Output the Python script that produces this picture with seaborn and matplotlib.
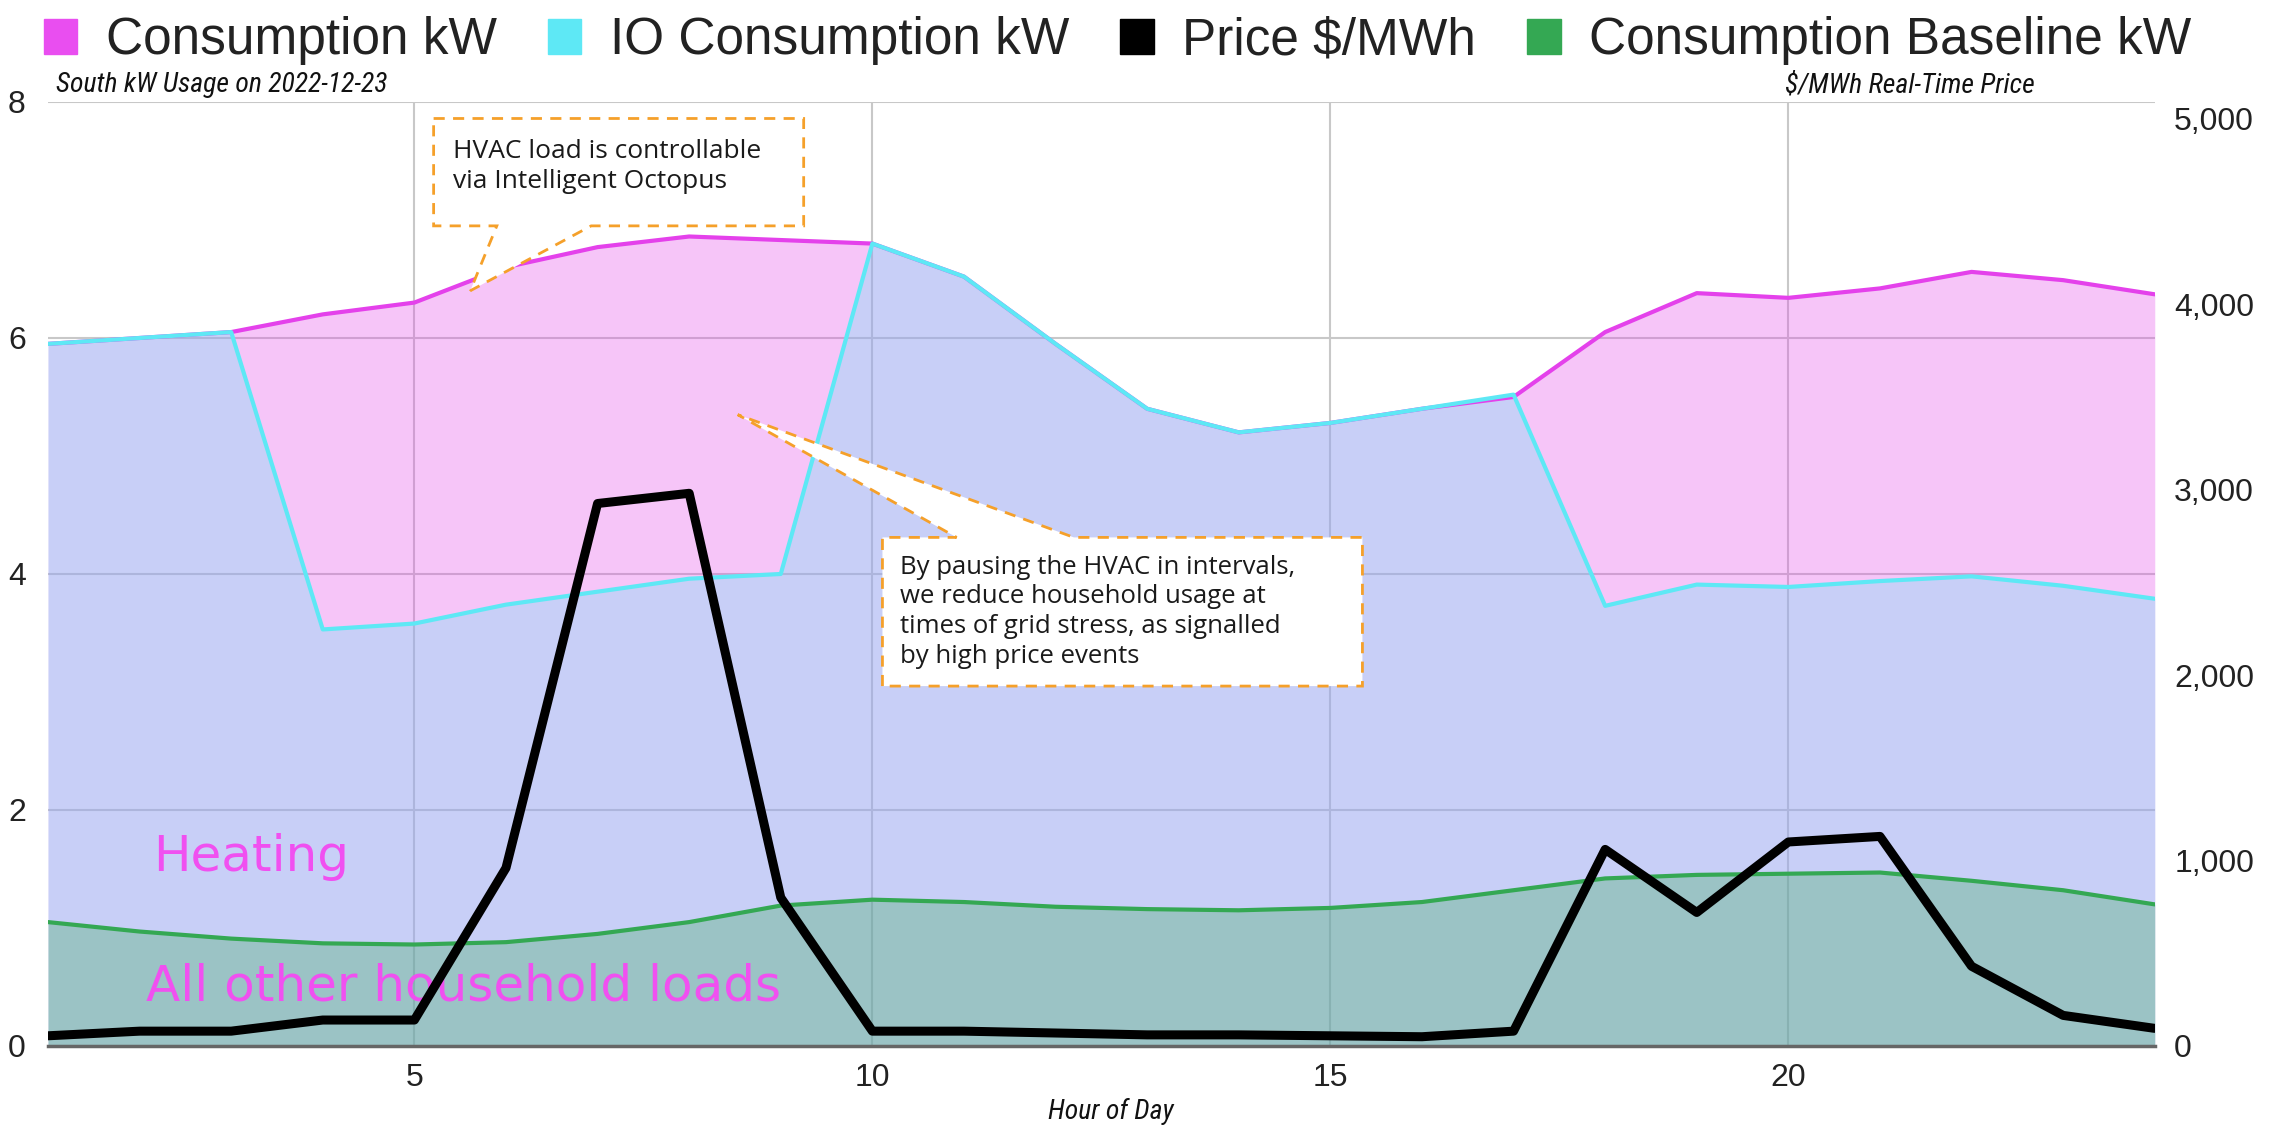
import numpy as np
import pandas as pd
import matplotlib
matplotlib.use("Agg")
import matplotlib.pyplot as plt
import seaborn as sns
from matplotlib.patches import Polygon, Patch
from matplotlib import font_manager as fm
from matplotlib.ticker import FuncFormatter

# ---------------- data ----------------
hours = list(range(1, 25))
consumption = [5.95, 6.00, 6.05, 6.20, 6.30, 6.60, 6.77, 6.86, 6.83, 6.80, 6.52, 5.95,
               5.40, 5.20, 5.28, 5.40, 5.50, 6.05, 6.38, 6.34, 6.42, 6.56, 6.49, 6.37]
io_consumption = [5.95, 6.00, 6.05, 3.53, 3.58, 3.74, 3.85, 3.96, 4.00, 6.80, 6.52, 5.95,
                  5.40, 5.20, 5.28, 5.40, 5.52, 3.73, 3.91, 3.89, 3.94, 3.98, 3.90, 3.79]
baseline = [1.05, 0.97, 0.91, 0.87, 0.86, 0.88, 0.95, 1.05, 1.19, 1.24, 1.22, 1.18,
            1.16, 1.15, 1.17, 1.22, 1.32, 1.42, 1.45, 1.46, 1.47, 1.40, 1.32, 1.20]
price = [55, 80, 80, 140, 140, 960, 2925, 2980, 800, 80, 80, 70,
         60, 60, 55, 50, 80, 1060, 720, 1100, 1130, 430, 165, 95]

series_labels = ["Consumption kW", "IO Consumption kW", "Price $/MWh", "Consumption Baseline kW"]
x_ticks = [5, 10, 15, 20]
y_ticks = [0, 2, 4, 6, 8]
y2_ticks = [0, 1000, 2000, 3000, 4000, 5000]

df = pd.DataFrame({"hour": hours, "cons": consumption, "io": io_consumption,
                   "base": baseline, "price": price})

# ---------------- style ----------------
sns.set_theme(style="white")
plt.rcParams["font.family"] = ["Liberation Sans", "DejaVu Sans"]
avail = {f.name for f in fm.fontManager.ttflist}
narrow = next((n for n in ["Liberation Sans Narrow", "Roboto Condensed", "Open Sans Condensed"]
               if n in avail), "Liberation Sans")
note_font = next((n for n in ["Open Sans", "Noto Sans"] if n in avail), "DejaVu Sans")

c_mag = "#e441eb"
c_cyan = "#5ee8f5"
c_green = "#34a853"
c_black = "#000000"
c_orange = "#f5a02a"
c_label = "#f050f0"

fig = plt.figure(figsize=(22.85, 11.28), dpi=100)
ax = fig.add_axes([0.021, 0.0727, 0.922, 0.8369])
ax.set_xlim(1, 24)
ax.set_ylim(0, 8)

# fills
ax.fill_between(df["hour"], df["cons"], color=c_mag, alpha=0.3, lw=0, zorder=1)
ax.fill_between(df["hour"], df["io"], color=c_cyan, alpha=0.3, lw=0, zorder=1)
ax.fill_between(df["hour"], df["base"], color=c_green, alpha=0.3, lw=0, zorder=1)

# lines
sns.lineplot(data=df, x="hour", y="cons", ax=ax, color=c_mag, lw=3, zorder=3)
sns.lineplot(data=df, x="hour", y="io", ax=ax, color=c_cyan, lw=3, zorder=3)
sns.lineplot(data=df, x="hour", y="base", ax=ax, color=c_green, lw=3, zorder=3)

ax.set_xticks(x_ticks)
ax.set_yticks(y_ticks)
ax.grid(True, color="#c8c8c8", lw=1.5)
ax.set_axisbelow(True)
for s in ["top", "left", "right"]:
    ax.spines[s].set_visible(False)
ax.spines["bottom"].set_color("#666666")
ax.spines["bottom"].set_linewidth(2.5)
ax.tick_params(axis="y", length=0, pad=16, labelsize=23, labelcolor="#222222")
ax.tick_params(axis="x", length=0, pad=12, labelsize=23, labelcolor="#222222")
ax.set_ylabel("")
ax.set_xlabel("")

# secondary axis
ax2 = ax.twinx()
sns.lineplot(data=df, x="hour", y="price", ax=ax2, color=c_black, lw=6.5, zorder=4)
ax2.set_ylim(0, 5090)
ax2.set_yticks(y2_ticks)
ax2.yaxis.set_major_formatter(FuncFormatter(lambda v, p: f"{v:,.0f}"))
ax2.grid(False)
for s in ax2.spines.values():
    s.set_visible(False)
ax2.tick_params(axis="y", length=0, pad=14, labelsize=23, labelcolor="#222222")
ax2.set_ylabel("")
ax2.set_xlabel("")

# axis titles
fig.text(0.486, 0.003, "Hour of Day", ha="center", va="bottom", fontsize=20,
         fontstyle="italic", family=narrow, color="#111111")
ax.text(0.004, 1.004, "South kW Usage on 2022-12-23", transform=ax.transAxes,
        ha="left", va="bottom", fontsize=20, fontstyle="italic", family=narrow, color="#111111")
ax.text(0.943, 1.004, "$/MWh Real-Time Price", transform=ax.transAxes,
        ha="right", va="bottom", fontsize=20, fontstyle="italic", family=narrow, color="#111111")

# in-chart labels
ax.text(2.15, 1.6, "Heating", color=c_label, fontsize=36, family="DejaVu Sans",
        va="center", ha="left", zorder=5)
ax.text(2.07, 0.5, "All other household loads", color=c_label, fontsize=36,
        family="DejaVu Sans", va="center", ha="left", zorder=5)

# callouts
def callout(points, text_xy, text, size):
    poly = Polygon(points, closed=True, facecolor="white", edgecolor=c_orange,
                   lw=2, ls=(0, (4, 3)), transform=ax.transData, zorder=10)
    ax2.add_patch(poly)
    ax2.text(text_xy[0], text_xy[1], text, transform=ax.transData, ha="left", va="center",
             fontsize=size, family=note_font, color="#1a1a1a", linespacing=1.25, zorder=11)

x0, y0, x1, y1 = 5.21, 6.95, 9.25, 7.86
callout([(x0, y1), (x1, y1), (x1, y0), (6.93, y0), (5.61, 6.40), (5.90, y0), (x0, y0)],
        (5.42, 7.45), "HVAC load is controllable\nvia Intelligent Octopus", 19)

x0, y0, x1, y1 = 10.11, 3.05, 15.35, 4.31
callout([(x0, y0), (x0, y1), (10.92, y1), (8.53, 5.35), (12.2, y1), (x1, y1), (x1, y0)],
        (10.30, 3.68),
        "By pausing the HVAC in intervals,\nwe reduce household usage at\n"
        "times of grid stress, as signalled\nby high price events", 18.5)

# legend
handles = [Patch(facecolor=c, edgecolor=c) for c in ["#e94ef0", c_cyan, c_black, c_green]]
fig.legend(handles, series_labels, loc="upper left", bbox_to_anchor=(0.017, 0.99), ncol=4,
           frameon=False, prop={"family": "Liberation Sans", "size": 37},
           handlelength=0.65, handleheight=0.65, handletextpad=0.55, columnspacing=1.0,
           borderaxespad=0, borderpad=0.1, labelcolor="#222222")

fig.savefig("out.png", dpi=100)
